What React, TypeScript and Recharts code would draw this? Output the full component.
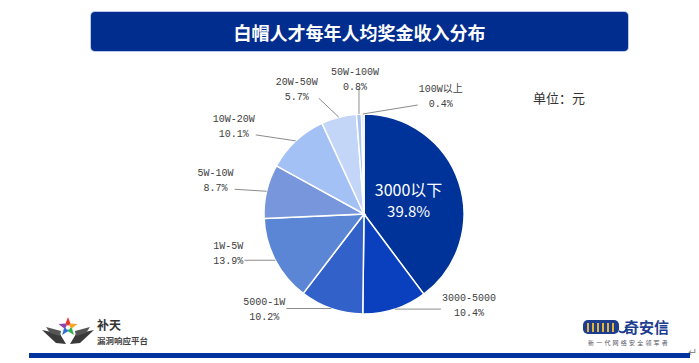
import React from 'react';
import { PieChart, Pie, Cell } from 'recharts';

const titleText = '白帽人才每年人均奖金收入分布';
const unitText = '单位：元';
const categories = ['3000以下', '3000-5000', '5000-1W', '1W-5W', '5W-10W', '10W-20W', '20W-50W', '50W-100W', '100W以上'];
const shares = [39.8, 10.4, 10.2, 13.9, 8.7, 10.1, 5.7, 0.8, 0.4];
const sliceColors = ['#003399', '#0A3FBE', '#3262C9', '#5B86D6', '#7796DC', '#A3C1F4', '#C4D6F8', '#A9C4F1', '#D3E0F9'];
// label block offsets from the slice edge point (layout only)
const labelOffsets: [number, number][] = [[0, 0], [74, -3], [-67, 1], [-47, -6], [-51, -10], [-62, -14], [-42, -27], [-4, -34], [78, -17]];

const data = categories.map((name, i) => ({ name, value: shares[i] }));
const RADIAN = Math.PI / 180;
const labelFont = "'Liberation Mono', 'DejaVu Sans Mono', 'Noto Sans CJK SC', monospace";
const cjkFont = "'Noto Sans CJK SC', 'Noto Sans', sans-serif";

function textW(s: string) {
  let w = 0;
  for (const ch of s) w += ch.charCodeAt(0) > 255 ? 10 : 6;
  return w;
}
function clamp(v: number, a: number, b: number) {
  return Math.max(a, Math.min(b, v));
}

function renderLabel(props: any) {
  const { cx, cy, midAngle, outerRadius, index } = props;
  const cos = Math.cos(-midAngle * RADIAN);
  const sin = Math.sin(-midAngle * RADIAN);
  const name = categories[index];
  const pct = shares[index].toFixed(1) + '%';
  if (index === 0) {
    const r = outerRadius * 0.47;
    const x = cx + r * cos;
    const y = cy + r * sin;
    return (
      <g>
        <text x={x} y={y - 10} fill="#ffffff" fontSize={16} fontFamily={cjkFont} textAnchor="middle" dominantBaseline="central">{name}</text>
        <text x={x} y={y + 11} fill="#ffffff" fontSize={15} fontFamily={cjkFont} textAnchor="middle" dominantBaseline="central">{pct}</text>
      </g>
    );
  }
  const ex = cx + outerRadius * cos;
  const ey = cy + outerRadius * sin;
  const [dx, dy] = labelOffsets[index];
  const lx = ex + dx;
  const ly = ey + dy;
  const w = Math.max(textW(name), textW(pct));
  const bx = clamp(ex, lx - w / 2 - 1, lx + w / 2 + 1);
  const by = clamp(ey, ly - 8, ly + 8);
  return (
    <g>
      <line x1={ex} y1={ey} x2={bx} y2={by} stroke="#8c8c8c" strokeWidth={1} />
      <text x={lx} y={ly - 7.5} fill="#404040" fontSize={10} fontFamily={labelFont} textAnchor="middle" dominantBaseline="central">{name}</text>
      <text x={lx} y={ly + 7.5} fill="#404040" fontSize={10} fontFamily={labelFont} textAnchor="middle" dominantBaseline="central">{pct}</text>
    </g>
  );
}

function LeftLogo() {
  const cx = 68, cy = 327, R = 10, r = 4.2;
  const pts: [number, number][] = [];
  for (let i = 0; i < 10; i++) {
    const a = (-90 + i * 36) * RADIAN;
    const rr = i % 2 === 0 ? R : r;
    pts.push([cx + rr * Math.cos(a), cy + rr * Math.sin(a)]);
  }
  const cols = ['#e8392d', '#f5a623', '#2db34a', '#2f6fd6', '#8e44ad'];
  const tris = [];
  for (let k = 0; k < 5; k++) {
    const p0 = pts[(2 * k + 9) % 10], p1 = pts[2 * k], p2 = pts[2 * k + 1];
    tris.push(<polygon key={k} points={`${cx},${cy} ${p0[0]},${p0[1]} ${p1[0]},${p1[1]} ${p2[0]},${p2[1]}`} fill={cols[k]} />);
  }
  return (
    <svg width={699} height={363} style={{ position: 'absolute', left: 0, top: 0, pointerEvents: 'none' }}>
      <polygon points="42,330 60,334 66,344 56,343" fill="#3a3a3a" />
      <polygon points="94,330 76,334 70,344 80,343" fill="#3a3a3a" />
      <polygon points="46,327 61,331 60,336 50,333" fill="#555" />
      <polygon points="90,327 75,331 76,336 86,333" fill="#555" />
      {tris}
      <circle cx={cx} cy={cy + 0.5} r={2.2} fill="#ffffff" />
      <rect x={583} y={320} width={36} height={14} rx={5} fill="#1d3d8f" />
      {[0, 1, 2, 3, 4, 5].map((i) => (
        <rect key={i} x={587 + i * 5} y={323} width={2} height={9} fill="#e3b53a" />
      ))}
      <path d="M619,331 q6,4 8,-4" stroke="#1d3d8f" strokeWidth={2} fill="none" />
      <text x={692} y={356} fontSize={11} fill="#888" fontFamily={cjkFont} textAnchor="middle">↵</text>
    </svg>
  );
}

export default function App() {
  return (
    <div style={{ position: 'absolute', left: 0, top: 0, width: 699, height: 363, background: '#ffffff', overflow: 'hidden' }}>
      <div
        style={{
          position: 'absolute', left: 91, top: 12, width: 537, height: 39, background: '#002D8E', borderRadius: 4,
          boxShadow: '0 0 0 1px #b9c9ec', color: '#ffffff', fontFamily: cjkFont, fontWeight: 700, fontSize: 18,
          display: 'flex', alignItems: 'center', justifyContent: 'center',
        }}
      >
        {titleText}
      </div>
      <div style={{ position: 'absolute', left: 533, top: 89, fontFamily: cjkFont, fontSize: 13, color: '#333333', lineHeight: '18px' }}>{unitText}</div>
      <div style={{ position: 'absolute', left: 0, top: 0 }}>
        <PieChart width={699} height={363} margin={{ top: 0, right: 0, bottom: 0, left: 0 }}>
          <Pie
            data={data}
            dataKey="value"
            nameKey="name"
            cx={364}
            cy={214}
            outerRadius={100}
            startAngle={90}
            endAngle={-270}
            stroke="#ffffff"
            strokeWidth={1.5}
            label={renderLabel}
            labelLine={false}
            isAnimationActive={false}
          >
            {data.map((d, i) => (
              <Cell key={d.name} fill={sliceColors[i]} />
            ))}
          </Pie>
        </PieChart>
      </div>
      <LeftLogo />
      <div style={{ position: 'absolute', left: 97, top: 318, fontFamily: cjkFont, fontWeight: 700, fontSize: 12, color: '#333', lineHeight: '14px' }}>补天</div>
      <div style={{ position: 'absolute', left: 97, top: 335, fontFamily: cjkFont, fontWeight: 700, fontSize: 8.5, color: '#444', lineHeight: '10px' }}>漏洞响应平台</div>
      <div style={{ position: 'absolute', left: 624, top: 318, fontFamily: cjkFont, fontWeight: 700, fontSize: 15, color: '#1d3d8f', lineHeight: '18px' }}>奇安信</div>
      <div style={{ position: 'absolute', left: 588, top: 339, fontFamily: cjkFont, fontSize: 6, color: '#556', lineHeight: '8px', letterSpacing: 2.2 }}>新一代网络安全领军者</div>
      <div style={{ position: 'absolute', left: 29, top: 353, width: 661, height: 5, background: '#0033A0' }} />
    </div>
  );
}
